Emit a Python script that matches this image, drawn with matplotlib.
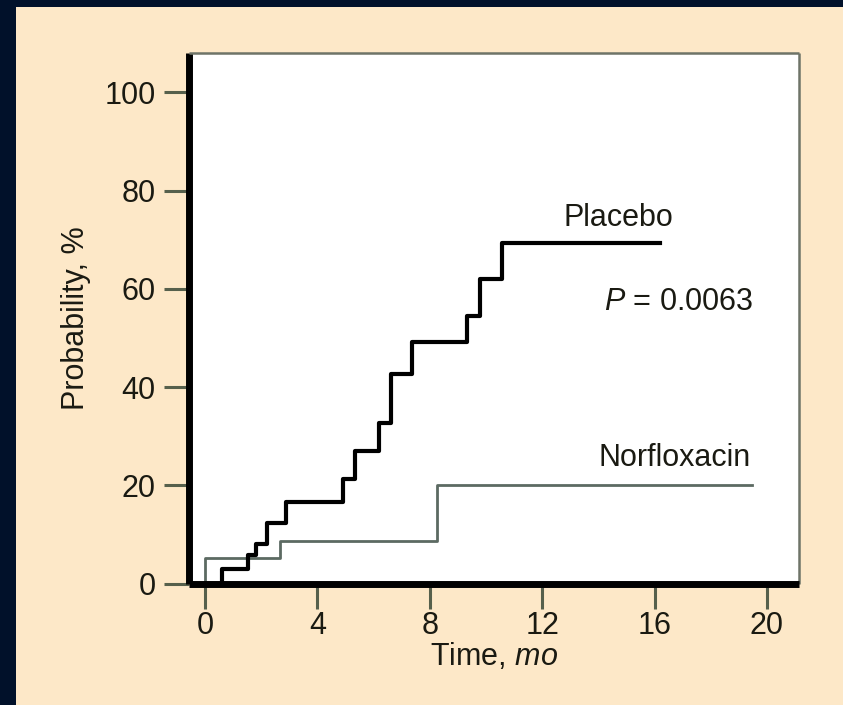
import matplotlib.pyplot as plt
from matplotlib.patches import Rectangle

plt.rcParams['font.family'] = ['Liberation Sans', 'DejaVu Sans']
plt.rcParams['mathtext.fontset'] = 'custom'
plt.rcParams['mathtext.rm'] = 'Liberation Sans'
plt.rcParams['mathtext.it'] = 'Liberation Sans:italic'

# Kaplan-Meier style curves (time in months, probability in %)
placebo_t = [0, 0.6, 1.54, 1.80, 2.19, 2.9, 4.9, 5.34, 6.2, 6.62, 7.36, 9.31, 9.79, 10.56, 16.2]
placebo_p = [0, 2.9, 5.9, 8.1, 12.3, 16.6, 21.3, 26.9, 32.7, 42.7, 49.1, 54.4, 61.9, 69.3, 69.3]
norflox_t = [0, 0, 2.67, 8.24, 19.45]
norflox_p = [0, 5.1, 8.6, 20.1, 20.1]

xticks = [0, 4, 8, 12, 16, 20]
yticks = [0, 20, 40, 60, 80, 100]

BEIGE = '#fde8c8'
NAVY = '#01112a'
FS = 22

fig = plt.figure(figsize=(8.43, 7.05), dpi=100, facecolor=BEIGE)
# dark slide border on the left and top
fig.patches.append(Rectangle((0, 0), 16 / 843, 1, transform=fig.transFigure,
                             facecolor=NAVY, edgecolor='none', zorder=0))
fig.patches.append(Rectangle((0, 1 - 7 / 705), 1, 7 / 705, transform=fig.transFigure,
                             facecolor=NAVY, edgecolor='none', zorder=0))

ax = fig.add_axes([0.2242, 0.1723, 0.7236, 0.7525])
ax.set_facecolor('white')

ax.step(placebo_t, placebo_p, where='post', color='black', lw=3.0, zorder=3)
ax.step(norflox_t, norflox_p, where='post', color='#5c6a62', lw=2.0, zorder=2)

ax.set_xlim(-0.57, 21.14)
ax.set_ylim(0, 108)
ax.set_xticks(xticks)
ax.set_yticks(yticks)

for side in ['left', 'bottom']:
    ax.spines[side].set_linewidth(5)
    ax.spines[side].set_color('black')
for side in ['top', 'right']:
    ax.spines[side].set_linewidth(1.8)
    ax.spines[side].set_color('#6e7468')
for sp in ax.spines.values():
    sp.set_capstyle('butt')

ax.tick_params(axis='both', direction='out', length=18, width=2.2, color='#56604c',
               labelsize=FS, labelcolor='#1a1a12')
ax.tick_params(axis='y', pad=6)
ax.tick_params(axis='x', pad=2)

ax.set_xlabel(r'Time, $\it{mo}$', fontsize=FS, color='#1a1a12', labelpad=0)
ax.set_ylabel('Probability, %', fontsize=FS, color='#1a1a12', labelpad=10)

ax.text(12.75, 74.5, 'Placebo', fontsize=FS, color='#1a1a12', va='center', ha='left')
ax.text(14.2, 57.4, r'$P$ = 0.0063', fontsize=FS, color='#1a1a12', va='center', ha='left')
ax.text(14.0, 25.6, 'Norfloxacin', fontsize=FS, color='#1a1a12', va='center', ha='left')

fig.savefig('out.png', dpi=100, facecolor=BEIGE)
